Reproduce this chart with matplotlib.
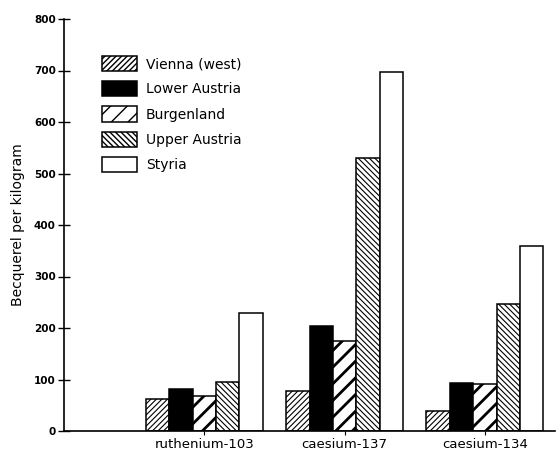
import matplotlib.pyplot as plt
import numpy as np

isotopes = ['ruthenium-103', 'caesium-137', 'caesium-134']
regions = ['Vienna (west)', 'Lower Austria', 'Burgenland', 'Upper Austria', 'Styria']

# Bq/kg, one list per region (order follows isotopes)
vienna = [63, 78, 39]
lower_austria = [82, 204, 93]
burgenland = [68, 175, 91]
upper_austria = [96, 531, 246]
styria = [230, 697, 360]

yticks = [0, 100, 200, 300, 400, 500, 600, 700, 800]

series = [vienna, lower_austria, burgenland, upper_austria, styria]
fills = ['white', 'black', 'white', 'white', 'white']
hatches = ['//////', None, '//', '\\\\\\\\\\\\', None]
hatch_lw = [0.8, 0.8, 2.0, 0.8, 0.8]

fig = plt.figure(figsize=(5.59, 4.53), dpi=100)
ax = fig.add_axes([64 / 559, 22 / 453, 491 / 559, 412 / 453])

n_reg = len(regions)
group_pos = np.arange(len(isotopes)) * (n_reg + 1)
handles = []
for i, (vals, fc, h, hlw) in enumerate(zip(series, fills, hatches, hatch_lw)):
    with plt.rc_context({'hatch.linewidth': hlw}):
        bars = ax.bar(group_pos + i, vals, width=1.0, color=fc, edgecolor='black',
                      linewidth=1.1, hatch=h, label=regions[i])
    for b in bars:
        if hasattr(b, 'set_hatch_linewidth'):
            b.set_hatch_linewidth(hlw)
    handles.append(bars)

ax.set_xlim(-4.0, 17.0)
ax.set_ylim(0, 800)
ax.set_yticks(yticks)
ax.set_yticklabels([str(t) for t in yticks], fontsize=7.5, fontweight='bold')
ax.tick_params(axis='y', direction='inout', length=8, width=1.0, pad=2)

ax.set_xticks(group_pos + (n_reg - 1) / 2)
ax.set_xticklabels(isotopes, fontsize=9.5)
ax.tick_params(axis='x', direction='out', length=3, width=0.8, pad=2)

for side in ['top', 'right']:
    ax.spines[side].set_visible(False)
ax.spines['left'].set_linewidth(1.2)
ax.spines['bottom'].set_linewidth(1.2)

ax.set_ylabel('Becquerel per kilogram', fontsize=10, labelpad=6)

leg = ax.legend(handles=handles, loc='upper left', bbox_to_anchor=(102 / 559, 1 - 56 / 453),
                bbox_transform=fig.transFigure, frameon=False, fontsize=10,
                handlelength=2.5, handleheight=1.3, labelspacing=0.72,
                handletextpad=0.65, borderpad=0, borderaxespad=0)

fig.savefig('out.png', dpi=100)
